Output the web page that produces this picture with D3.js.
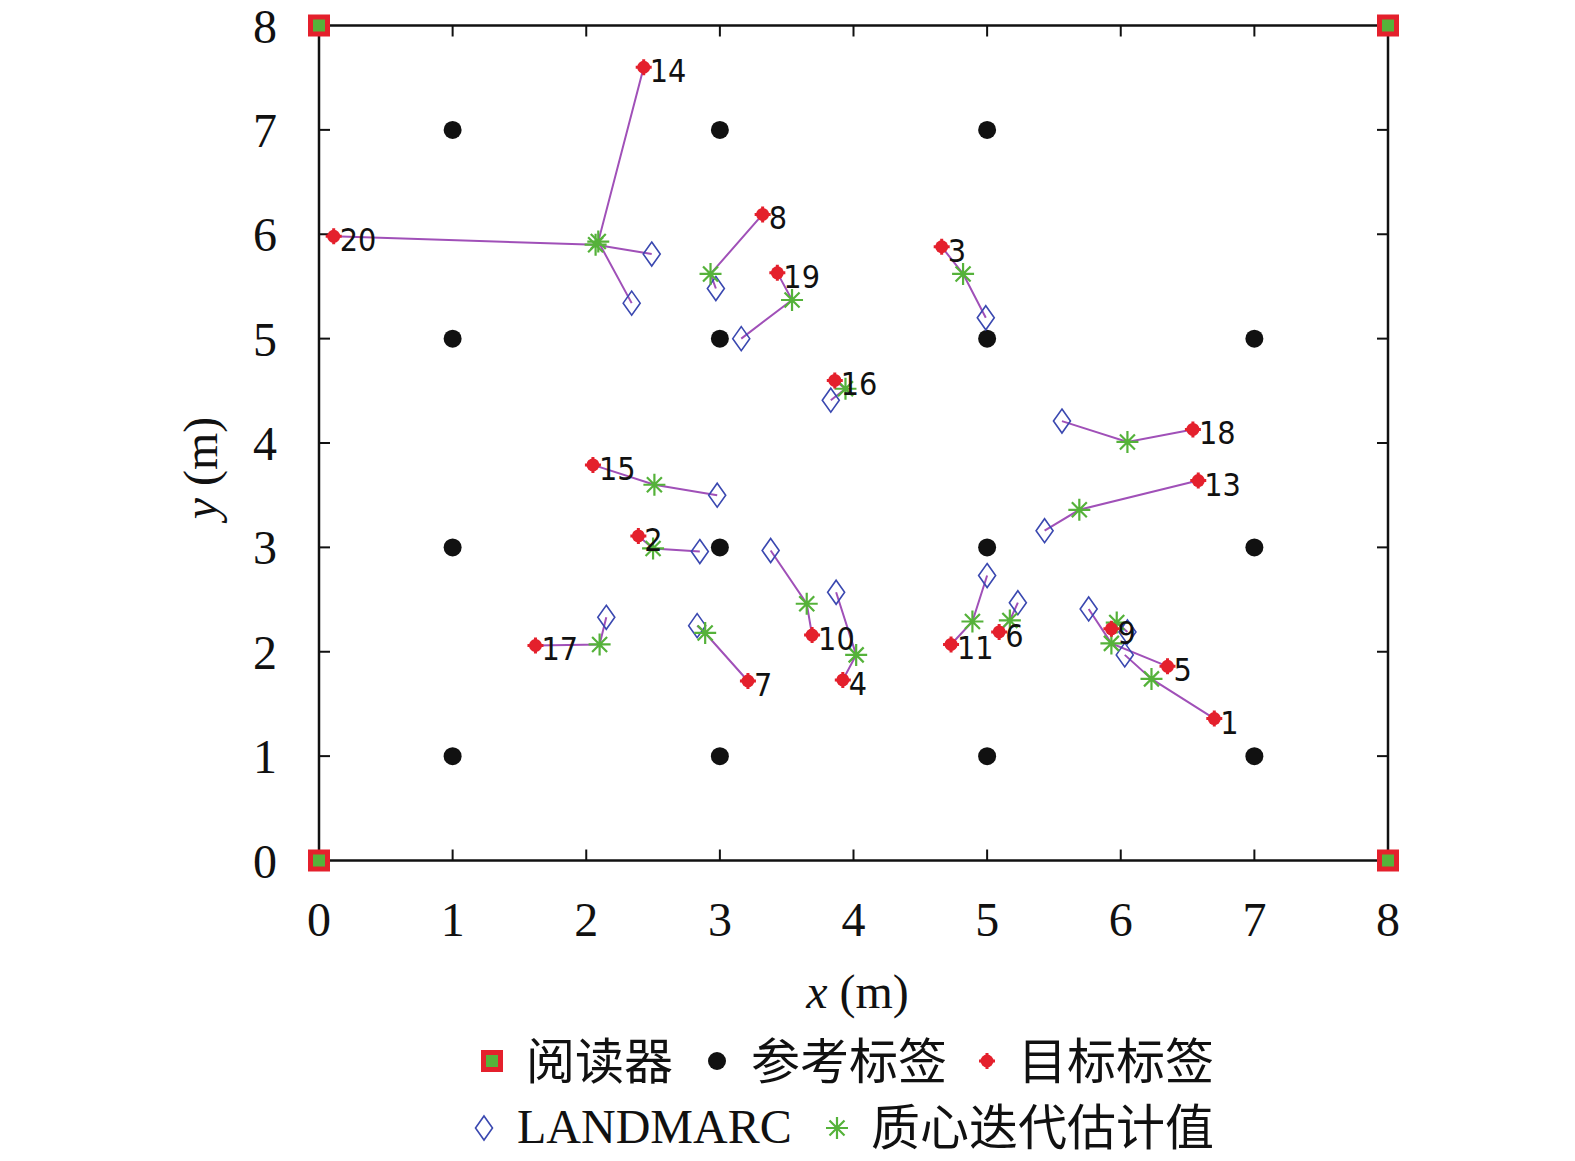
<!DOCTYPE html>
<html lang="en">
<head>
  <meta charset="utf-8">
  <title>Localization</title>
  <script src="https://d3js.org/d3.v7.min.js"></script>
  <style>
    html, body { margin: 0; padding: 0; background: #fff; overflow: hidden; }
    svg { display: block; }
    .tick-label { font-family: "Liberation Serif", "Times New Roman", serif; font-size: 48px; fill: #111; }
    .axis-title { font-family: "Liberation Serif", "Times New Roman", serif; font-size: 48px; fill: #111; }
    .tag-label { font-family: "Liberation Sans Narrow", "DejaVu Sans Condensed", sans-serif; font-size: 32px; fill: #111; }
    .legend-cjk { font-family: "Noto Sans CJK SC", sans-serif; font-size: 49px; fill: #111; }
    .legend-lat { font-family: "Liberation Serif", serif; font-size: 48px; fill: #111; }
  </style>
</head>
<body>
<div id="my_dataviz"></div>
<script>
// ticks on both axes
var ticks = [0, 1, 2, 3, 4, 5, 6, 7, 8];

// readers in the corners
var readerX = [0, 0, 8, 8];
var readerY = [0, 8, 0, 8];

// reference tags
var refX = [1, 3, 5, 1, 3, 5, 7, 1, 3, 5, 7, 1, 3, 5, 7];
var refY = [7, 7, 7, 5, 5, 5, 5, 3, 3, 3, 3, 1, 1, 1, 1];

// target tags (real position), LANDMARC estimate and centroid iterative estimate
var tagId  = [1, 2, 3, 4, 5, 6, 7, 8, 9, 10, 11, 13, 14, 15, 16, 17, 18, 19, 20];
var tagX   = [6.70, 2.39, 4.66, 3.92, 6.35, 5.09, 3.21, 3.32, 5.93, 3.69, 4.73, 6.58, 2.43, 2.05, 3.86, 1.62, 6.54, 3.43, 0.11];
var tagY   = [1.36, 3.11, 5.88, 1.73, 1.86, 2.19, 1.72, 6.19, 2.22, 2.16, 2.07, 3.64, 7.60, 3.79, 4.60, 2.06, 4.13, 5.63, 5.98];
var landX  = [6.03, 2.85, 4.99, 3.87, 5.76, 5.23, 2.83, 2.97, 6.05, 3.38, 5.00, 5.43, 2.34, 2.98, 3.83, 2.15, 5.56, 3.16, 2.49];
var landY  = [1.97, 2.96, 5.20, 2.57, 2.41, 2.47, 2.25, 5.48, 2.19, 2.97, 2.73, 3.16, 5.34, 3.50, 4.41, 2.33, 4.21, 5.00, 5.81];
var centX  = [6.23, 2.50, 4.82, 4.02, 5.93, 5.17, 2.89, 2.93, 5.97, 3.65, 4.89, 5.69, 2.09, 2.51, 3.94, 2.10, 6.05, 3.54, 2.07];
var centY  = [1.74, 2.99, 5.62, 1.97, 2.08, 2.30, 2.18, 5.62, 2.28, 2.46, 2.29, 3.36, 5.93, 3.60, 4.52, 2.07, 4.01, 5.37, 5.90];

var colTarget = "#e4202c", colLand = "#3a48b0", colCent = "#55b23a", colPath = "#a050b8";

var margin = {top: 25.5, right: 187, bottom: 300.5, left: 319},
    width = 1069,
    height = 835;

var svg = d3.select("#my_dataviz")
  .append("svg")
    .attr("width", width + margin.left + margin.right)
    .attr("height", height + margin.top + margin.bottom);

var g = svg.append("g")
    .attr("transform", `translate(${margin.left}, ${margin.top})`);

var x = d3.scaleLinear().domain([0, 8]).range([0, width]);
var y = d3.scaleLinear().domain([0, 8]).range([height, 0]);

// frame
g.append("rect")
  .attr("x", 0).attr("y", 0)
  .attr("width", width).attr("height", height)
  .attr("fill", "none").attr("stroke", "#111").attr("stroke-width", 2.5);

// inward ticks on all four sides
var tl = 11;
ticks.forEach(function(t) {
  g.append("line").attr("x1", x(t)).attr("x2", x(t)).attr("y1", height).attr("y2", height - tl).attr("stroke", "#111").attr("stroke-width", 2);
  g.append("line").attr("x1", x(t)).attr("x2", x(t)).attr("y1", 0).attr("y2", tl).attr("stroke", "#111").attr("stroke-width", 2);
  g.append("line").attr("y1", y(t)).attr("y2", y(t)).attr("x1", 0).attr("x2", tl).attr("stroke", "#111").attr("stroke-width", 2);
  g.append("line").attr("y1", y(t)).attr("y2", y(t)).attr("x1", width).attr("x2", width - tl).attr("stroke", "#111").attr("stroke-width", 2);
});

// tick labels
g.selectAll(".xt").data(ticks).enter().append("text")
  .attr("class", "tick-label")
  .attr("x", function(d) { return x(d); })
  .attr("y", height + 75)
  .attr("text-anchor", "middle")
  .text(function(d) { return d; });

g.selectAll(".yt").data(ticks).enter().append("text")
  .attr("class", "tick-label")
  .attr("x", -42)
  .attr("y", function(d) { return y(d) + 17; })
  .attr("text-anchor", "end")
  .text(function(d) { return d; });

// axis titles
var xt = g.append("text").attr("class", "axis-title")
  .attr("x", width / 2 + 4).attr("y", height + 147)
  .attr("text-anchor", "middle");
xt.append("tspan").attr("font-style", "italic").text("x");
xt.append("tspan").text(" (m)");

var yt = g.append("text").attr("class", "axis-title")
  .attr("transform", `translate(${-102}, ${height / 2 + 25}) rotate(-90)`)
  .attr("text-anchor", "middle");
yt.append("tspan").attr("font-style", "italic").text("y");
yt.append("tspan").text(" (m)");

// symbol helpers
function drawReader(sel, cx, cy) {
  sel.append("rect").attr("x", cx - 11).attr("y", cy - 11).attr("width", 22).attr("height", 22).attr("fill", colTarget);
  sel.append("rect").attr("x", cx - 6).attr("y", cy - 6).attr("width", 12).attr("height", 12).attr("fill", colCent);
}
function drawRef(sel, cx, cy) {
  sel.append("circle").attr("cx", cx).attr("cy", cy).attr("r", 9).attr("fill", "#111");
}
function drawTarget(sel, cx, cy) {
  var r = 8;
  sel.append("path")
    .attr("d", `M${cx - r},${cy}L${cx + r},${cy}M${cx},${cy - r}L${cx},${cy + r}`)
    .attr("stroke", colTarget).attr("stroke-width", 3);
  sel.append("circle").attr("cx", cx).attr("cy", cy).attr("r", 6.5).attr("fill", colTarget);
}
function drawLand(sel, cx, cy) {
  sel.append("path")
    .attr("d", `M${cx},${cy - 12}L${cx + 8.5},${cy}L${cx},${cy + 12}L${cx - 8.5},${cy}Z`)
    .attr("fill", "none").attr("stroke", colLand).attr("stroke-width", 1.6);
}
function drawCent(sel, cx, cy) {
  var r = 11, d = 7.5;
  var p = `M${cx - r},${cy}L${cx + r},${cy}M${cx},${cy - r}L${cx},${cy + r}` +
          `M${cx - d},${cy - d}L${cx + d},${cy + d}M${cx - d},${cy + d}L${cx + d},${cy - d}`;
  sel.append("path").attr("d", p).attr("stroke", colCent).attr("stroke-width", 2.2).attr("fill", "none");
}

// reference tags
var idx = d3.range(tagId.length);
refX.forEach(function(v, i) { drawRef(g, x(v), y(refY[i])); });

// paths LANDMARC -> centroid -> target
var line = d3.line().x(function(p) { return x(p[0]); }).y(function(p) { return y(p[1]); });
g.selectAll(".trace").data(idx).enter().append("path")
  .attr("d", function(i) { return line([[landX[i], landY[i]], [centX[i], centY[i]], [tagX[i], tagY[i]]]); })
  .attr("fill", "none").attr("stroke", colPath).attr("stroke-width", 2);

idx.forEach(function(i) { drawLand(g, x(landX[i]), y(landY[i])); });
idx.forEach(function(i) { drawCent(g, x(centX[i]), y(centY[i])); });
idx.forEach(function(i) { drawTarget(g, x(tagX[i]), y(tagY[i])); });

g.selectAll(".tl").data(idx).enter().append("text")
  .attr("class", "tag-label")
  .attr("x", function(i) { return x(tagX[i]) + 6; })
  .attr("y", function(i) { return y(tagY[i]) + 15; })
  .text(function(i) { return tagId[i]; });

// readers on top
readerX.forEach(function(v, i) { drawReader(g, x(v), y(readerY[i])); });

// legend
var lg = svg.append("g");
drawReader(lg, 492, 1061);
lg.append("text").attr("class", "legend-cjk").attr("x", 526).attr("y", 1079).text("阅读器");
drawRef(lg, 717, 1061);
lg.append("text").attr("class", "legend-cjk").attr("x", 751).attr("y", 1079).text("参考标签");
drawTarget(lg, 987, 1061);
lg.append("text").attr("class", "legend-cjk").attr("x", 1018).attr("y", 1079).text("目标标签");

drawLand(lg, 484, 1128);
lg.append("text").attr("class", "legend-lat").attr("x", 517).attr("y", 1143).text("LANDMARC");
drawCent(lg, 837, 1128);
lg.append("text").attr("class", "legend-cjk").attr("x", 871).attr("y", 1145).text("质心迭代估计值");
</script>
</body>
</html>
